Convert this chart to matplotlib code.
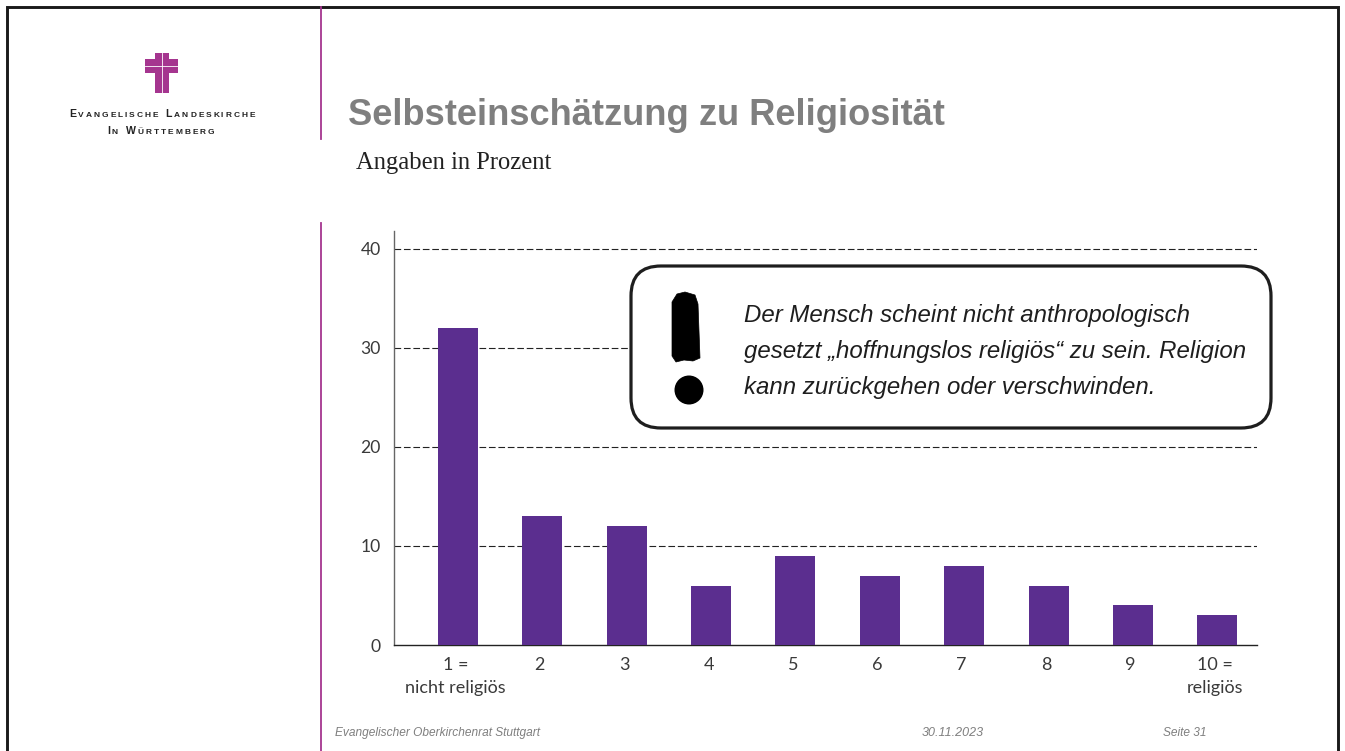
import matplotlib
matplotlib.use("Agg")
import matplotlib.pyplot as plt
from matplotlib.patches import FancyBboxPatch, Rectangle, Polygon, Circle
from matplotlib.transforms import ScaledTranslation

W, H = 1345, 751

# chart data
categories = ["1 =\nnicht religiös", "2", "3", "4", "5", "6", "7", "8", "9", "10 =\nreligiös"]
values = [32, 13, 12, 6, 9, 7, 8, 6, 4, 3]
y_ticks = [0, 10, 20, 30, 40]

title = "Selbsteinschätzung zu Religiosität"
subtitle = "Angaben in Prozent"
note_lines = [
    "Der Mensch scheint nicht anthropologisch",
    "gesetzt „hoffnungslos religiös“ zu sein. Religion",
    "kann zurückgehen oder verschwinden.",
]

BAR = "#5B2E8F"
LILA = "#A5358F"
GRAY = "#7F7F7F"
TEXT = "#3A3A3A"

fig = plt.figure(figsize=(W / 100, H / 100), dpi=100, facecolor="white")

# chart axes, placed in pixels
left, right, top, bottom = 394, 1257, 231, 645
ax = fig.add_axes([left / W, 1 - bottom / H, (right - left) / W, (bottom - top) / H])
x = list(range(1, 11))
ax.bar(x, values, width=0.474, color=BAR, zorder=3)
ax.set_xlim(0.242, 10.47)
ax.set_ylim(0, 41.8)
ax.set_xticks(x)
ax.set_xticklabels(categories, fontfamily="Lato", fontsize=13, color=TEXT, linespacing=1.52)
ax.set_yticks(y_ticks)
ax.set_yticklabels([str(v) for v in y_ticks], fontfamily="Lato", fontsize=12.6, color=TEXT)
ax.tick_params(axis="both", length=0)
ax.tick_params(axis="x", pad=8.5)
ax.tick_params(axis="y", pad=9.5)
# x labels sit a little left of the bar centres in the original
shift = ScaledTranslation(-2.5 / 100, 0, fig.dpi_scale_trans)
for lab in ax.get_xticklabels():
    lab.set_transform(lab.get_transform() + shift)
for v in y_ticks[1:]:
    ax.axhline(v, color="#222222", lw=0.8, dashes=(6, 2.5), zorder=1)
for s in ["top", "right"]:
    ax.spines[s].set_visible(False)
ax.spines["left"].set_color("#666666")
ax.spines["left"].set_linewidth(1.0)
ax.spines["bottom"].set_color("#222222")
ax.spines["bottom"].set_linewidth(1.0)
ax.patch.set_alpha(0)

# overlay in pixel coordinates for the slide furniture
ov = fig.add_axes([0, 0, 1, 1], zorder=5)
ov.set_xlim(0, W)
ov.set_ylim(H, 0)
ov.axis("off")
ov.patch.set_alpha(0)

# slide frame
ov.plot([7, 7, 1338, 1338], [H, 7, 7, H], color="#1A1A1A", lw=2.1, solid_joinstyle="miter")
ov.plot([321, 321], [7, 139], color=LILA, lw=1.3)
ov.plot([321, 321], [223, H], color=LILA, lw=1.3)

# logo cross
ov.add_patch(Rectangle((155, 53), 14, 40, color=LILA, lw=0))
ov.add_patch(Rectangle((145, 59), 33, 14, color=LILA, lw=0))
ov.plot([162, 162], [53, 93], color="white", lw=0.6)
ov.plot([145, 178], [66, 66], color="white", lw=0.6)


def small_caps(text, x0, y0, big=7.6, small=6.0, gap=1.95):
    # letter spaced small caps of the logo wordmark, one glyph at a time
    rend = fig.canvas.get_renderer()
    pos = x0
    for ch in text:
        size = small if ch.islower() else big
        if ch == " ":
            pos += 4 + gap
            continue
        t = ov.text(pos, y0, ch.upper(), fontfamily="Liberation Sans", fontweight="bold",
                    fontsize=size, color="#222222", ha="left", va="baseline")
        pos += t.get_window_extent(rend).width + gap


small_caps("Evangelische Landeskirche", 69, 117)
small_caps("In Württemberg", 107, 134)

# headings
ov.text(348, 125, title, fontfamily="Liberation Sans", fontweight="bold", fontsize=26.1,
        color=GRAY, ha="left", va="baseline")
ov.text(356, 169, subtitle, fontfamily="Liberation Serif", fontsize=17.7, color="#222222",
        ha="left", va="baseline")

# callout
ov.add_patch(FancyBboxPatch((631, 266), 640, 162, boxstyle="round,pad=0,rounding_size=30",
                            fc="white", ec="#1E1E1E", lw=2.3))
ov.add_patch(Polygon([(672, 302), (677, 294), (685, 292), (695, 295), (698, 304), (700, 358),
                      (693, 361), (684, 360), (676, 362), (672, 356)],
                     closed=True, fc="black", ec="black", lw=0.5))
ov.add_patch(Circle((689, 390), 14.5, fc="black", ec="none"))
for line, yy in zip(note_lines, [322, 358, 394]):
    ov.text(744, yy, line, fontfamily="Liberation Sans", style="italic", fontsize=17.25,
            color="#1E1E1E", ha="left", va="baseline")

# footer
ov.text(335, 736, "Evangelischer Oberkirchenrat Stuttgart", fontfamily="Liberation Sans",
        style="italic", fontsize=8.6, color=GRAY, ha="left", va="baseline")
ov.text(922, 736, "30.11.2023", fontfamily="Liberation Sans", style="italic", fontsize=9,
        color=GRAY, ha="left", va="baseline")
ov.text(1163, 736, "Seite 31", fontfamily="Liberation Sans", style="italic", fontsize=8.6,
        color=GRAY, ha="left", va="baseline")

fig.savefig("out.png", dpi=100)
